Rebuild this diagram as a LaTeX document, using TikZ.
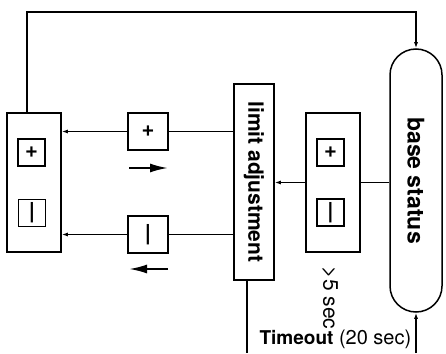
\documentclass[tikz,border=0pt]{standalone}
\usepackage{fontspec}
\setmainfont{TeX Gyre Heros}
\usetikzlibrary{arrows.meta}
\newcommand\labelsize{\fontsize{21}{24}\selectfont}
\begin{document}
\begin{tikzpicture}[x=1pt, y=-1pt, line width=1.5pt, >={Latex[length=6pt,width=4pt]},
    panel/.style={draw, inner sep=0pt, minimum width=54pt, minimum height=139pt},
    sign/.style={draw, inner sep=0pt, minimum size=27pt, font=\fontsize{22}{24}\selectfont\bfseries},
    gate/.style={draw, inner sep=0pt, minimum width=40pt, minimum height=37pt, font=\fontsize{22}{24}\selectfont\bfseries},
    move/.style={-{Latex[length=18pt,width=9pt]}, line width=2pt}]
    \useasboundingbox (0,0) rectangle (446,353);
    % left panel and its two signs
    \node[panel] (lbox) at (34,182.5) {};
    \node[sign] (lplus) at (31.5,152.5) {+};
    \node[sign] (lminus) at (32,213) {|};
    % the two gates
    \node[gate] (pgate) at (148,131.5) {+};
    \node[gate] (mgate) at (148,234.5) {|};
    \node[draw, inner sep=0pt, minimum width=40pt, minimum height=196pt, font=\labelsize\bfseries] (limit) at (254,182) {\rotatebox{-90}{limit adjustment}};
    % right panel
    \node[panel] (rbox) at (333,182.5) {};
    \node[sign] (rplus) at (330.5,152.5) {+};
    \node[sign] (rminus) at (330.5,212.5) {|};
    \node[draw, rounded corners=26pt, inner sep=0pt, minimum width=52pt, minimum height=263pt, font=\fontsize{23}{26}\selectfont\bfseries] (base) at (416,180.5) {\rotatebox{-90}{base status}};
    \node[font=\labelsize, inner sep=0pt, anchor=north] (delay) at (330,266) {\rotatebox{-90}{>5 sec}};
    \node[font=\fontsize{20}{24}\selectfont, inner sep=0pt, anchor=east] (timeout) at (412,339) {{\fontsize{19}{24}\selectfont\bfseries Timeout} (20 sec)};
    % connectors
    \coordinate (loop) at (27,12);
    \draw[->] (lbox.north -| loop) -- (loop) -| (base.north);
    \draw[->] (pgate.west) -- (pgate.west -| lbox.east);
    \draw (pgate.east) -- (pgate.east -| limit.west);
    \draw[->] (mgate.west) -- (mgate.west -| lbox.east);
    \draw (mgate.east) -- (mgate.east -| limit.west);
    \draw[->] (rbox.west) -- (rbox.west -| limit.east);
    \draw (rbox.east) -- (rbox.east -| base.west);
    \coordinate (limout) at (247,353);
    \draw (limit.south -| limout) -- (limout);
    \coordinate (tin) at (416,353);
    \draw[->] (tin) -- (base.south);
    % direction arrows
    \coordinate (up1) at (129,168);
    \coordinate (up2) at (168,168);
    \draw[move] (up1) -- (up2);
    \coordinate (dn1) at (168,269);
    \coordinate (dn2) at (129,269);
    \draw[move] (dn1) -- (dn2);
\end{tikzpicture}
\end{document}
